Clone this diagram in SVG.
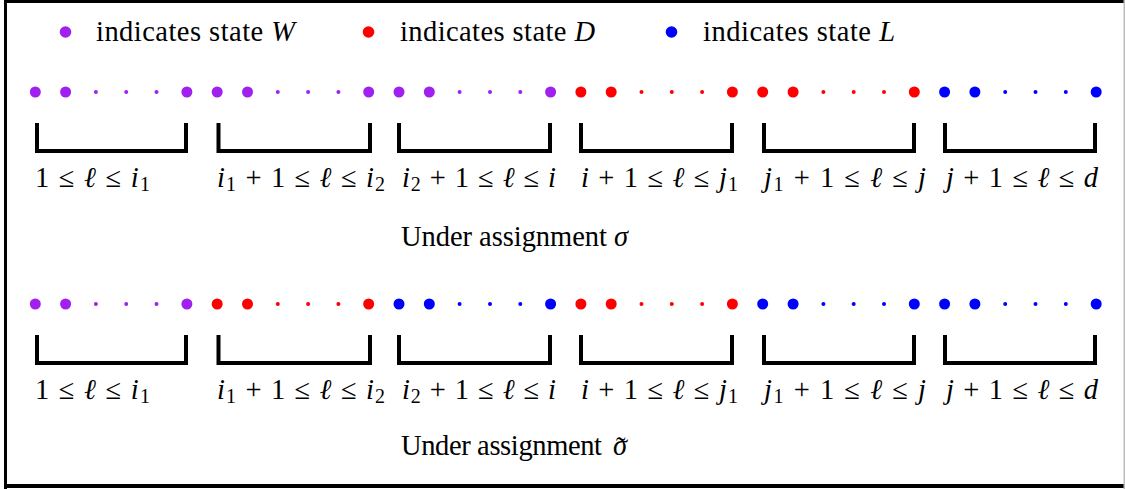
<svg xmlns="http://www.w3.org/2000/svg" width="1125" height="489" viewBox="0 0 1125 489">
<style>
text{font-family:"Liberation Serif","DejaVu Serif",serif;font-size:28.5px;fill:#000}
.it{font-style:italic}
.sub{font-size:20px}
.P{fill:#a020f0}.R{fill:#ff0000}.B{fill:#0000ff}
.br{fill:none;stroke:#000;stroke-width:4;stroke-linejoin:miter}
</style>
<rect x="0" y="0" width="1125" height="489" fill="#fff"/>
<g id="frame">
<rect x="4" y="0" width="1121" height="3" fill="#000"/>
<rect x="4" y="0" width="3" height="489" fill="#000"/>
<rect x="4" y="484" width="1121" height="4" fill="#000"/>
<rect x="1123.5" y="0" width="1.5" height="489" fill="#bbb"/>
</g>
<g id="legend-W"><circle class="P" cx="65.5" cy="32" r="5.8"/><text x="96" y="41" textLength="199" lengthAdjust="spacing">indicates state <tspan class="it">W</tspan></text></g>
<g id="legend-D"><circle class="R" cx="368.5" cy="32" r="5.8"/><text x="400" y="41" textLength="195" lengthAdjust="spacing">indicates state <tspan class="it">D</tspan></text></g>
<g id="legend-L"><circle class="B" cx="671.5" cy="32" r="5.8"/><text x="703" y="41" textLength="192" lengthAdjust="spacing">indicates state <tspan class="it">L</tspan></text></g>
<g id="connectors"/>
<!-- Row 1 -->
<g id="r1g1" class="P"><circle cx="35.3" cy="92" r="5.5"/><circle cx="65.6" cy="92" r="5.5"/><circle cx="95.9" cy="92" r="2"/><circle cx="126.2" cy="92" r="2"/><circle cx="156.5" cy="92" r="2"/><circle cx="186.9" cy="92" r="5.5"/><path class="br" d="M37 123V151H186V123"/><text x="35" y="187" textLength="115" lengthAdjust="spacing">1 ≤ <tspan class="it">ℓ</tspan> ≤ <tspan class="it">i</tspan><tspan class="sub" dy="4">1</tspan></text></g>
<g id="r1g2" class="P"><circle cx="217.2" cy="92" r="5.5"/><circle cx="247.5" cy="92" r="5.5"/><circle cx="277.8" cy="92" r="2"/><circle cx="308.1" cy="92" r="2"/><circle cx="338.4" cy="92" r="2"/><circle cx="368.7" cy="92" r="5.5"/><path class="br" d="M218.5 123V151H370V123"/><text x="217" y="187" textLength="168" lengthAdjust="spacing"><tspan class="it">i</tspan><tspan class="sub" dy="4">1</tspan><tspan dy="-4"> + 1 ≤ </tspan><tspan class="it">ℓ</tspan> ≤ <tspan class="it">i</tspan><tspan class="sub" dy="4">2</tspan></text></g>
<g id="r1g3" class="P"><circle cx="399" cy="92" r="5.5"/><circle cx="429.3" cy="92" r="5.5"/><circle cx="459.6" cy="92" r="2"/><circle cx="490" cy="92" r="2"/><circle cx="520.3" cy="92" r="2"/><circle cx="550.6" cy="92" r="5.5"/><path class="br" d="M399 123V151H550V123"/><text x="402" y="187" textLength="154" lengthAdjust="spacing"><tspan class="it">i</tspan><tspan class="sub" dy="4">2</tspan><tspan dy="-4"> + 1 ≤ </tspan><tspan class="it">ℓ</tspan> ≤ <tspan class="it">i</tspan></text></g>
<g id="r1g4" class="R"><circle cx="580.9" cy="92" r="5.5"/><circle cx="611.2" cy="92" r="5.5"/><circle cx="641.5" cy="92" r="2"/><circle cx="671.8" cy="92" r="2"/><circle cx="702.1" cy="92" r="2"/><circle cx="732.4" cy="92" r="5.5"/><path class="br" d="M581 123V151H732V123"/><text x="581" y="187" textLength="157" lengthAdjust="spacing"><tspan class="it">i</tspan> + 1 ≤ <tspan class="it">ℓ</tspan> ≤ <tspan class="it">j</tspan><tspan class="sub" dy="4">1</tspan></text></g>
<g id="r1g5" class="R"><circle cx="762.7" cy="92" r="5.5"/><circle cx="793.1" cy="92" r="5.5"/><circle cx="823.4" cy="92" r="2"/><circle cx="853.7" cy="92" r="2"/><circle cx="884" cy="92" r="2"/><circle cx="914.3" cy="92" r="5.5"/><path class="br" d="M764 123V151H914V123"/><text x="764" y="187" textLength="162" lengthAdjust="spacing"><tspan class="it">j</tspan><tspan class="sub" dy="4">1</tspan><tspan dy="-4"> + 1 ≤ </tspan><tspan class="it">ℓ</tspan> ≤ <tspan class="it">j</tspan></text></g>
<g id="r1g6" class="B"><circle cx="944.6" cy="92" r="5.5"/><circle cx="974.9" cy="92" r="5.5"/><circle cx="1005.2" cy="92" r="2"/><circle cx="1035.5" cy="92" r="2"/><circle cx="1065.8" cy="92" r="2"/><circle cx="1096.2" cy="92" r="5.5"/><path class="br" d="M945 123V151H1095V123"/><text x="946" y="187" textLength="152" lengthAdjust="spacing"><tspan class="it">j</tspan> + 1 ≤ <tspan class="it">ℓ</tspan> ≤ <tspan class="it">d</tspan></text></g>
<g id="caption1"><text x="401" y="246" textLength="227" lengthAdjust="spacing">Under assignment <tspan class="it">σ</tspan></text></g>
<!-- Row 2 -->
<g id="r2g1" class="P"><circle cx="35.3" cy="304" r="5.5"/><circle cx="65.6" cy="304" r="5.5"/><circle cx="95.9" cy="304" r="2"/><circle cx="126.2" cy="304" r="2"/><circle cx="156.5" cy="304" r="2"/><circle cx="186.9" cy="304" r="5.5"/><path class="br" d="M37 335V363H186V335"/><text x="35" y="399" textLength="115" lengthAdjust="spacing">1 ≤ <tspan class="it">ℓ</tspan> ≤ <tspan class="it">i</tspan><tspan class="sub" dy="4">1</tspan></text></g>
<g id="r2g2" class="R"><circle cx="217.2" cy="304" r="5.5"/><circle cx="247.5" cy="304" r="5.5"/><circle cx="277.8" cy="304" r="2"/><circle cx="308.1" cy="304" r="2"/><circle cx="338.4" cy="304" r="2"/><circle cx="368.7" cy="304" r="5.5"/><path class="br" d="M218.5 335V363H370V335"/><text x="217" y="399" textLength="168" lengthAdjust="spacing"><tspan class="it">i</tspan><tspan class="sub" dy="4">1</tspan><tspan dy="-4"> + 1 ≤ </tspan><tspan class="it">ℓ</tspan> ≤ <tspan class="it">i</tspan><tspan class="sub" dy="4">2</tspan></text></g>
<g id="r2g3" class="B"><circle cx="399" cy="304" r="5.5"/><circle cx="429.3" cy="304" r="5.5"/><circle cx="459.6" cy="304" r="2"/><circle cx="490" cy="304" r="2"/><circle cx="520.3" cy="304" r="2"/><circle cx="550.6" cy="304" r="5.5"/><path class="br" d="M399 335V363H550V335"/><text x="402" y="399" textLength="154" lengthAdjust="spacing"><tspan class="it">i</tspan><tspan class="sub" dy="4">2</tspan><tspan dy="-4"> + 1 ≤ </tspan><tspan class="it">ℓ</tspan> ≤ <tspan class="it">i</tspan></text></g>
<g id="r2g4" class="R"><circle cx="580.9" cy="304" r="5.5"/><circle cx="611.2" cy="304" r="5.5"/><circle cx="641.5" cy="304" r="2"/><circle cx="671.8" cy="304" r="2"/><circle cx="702.1" cy="304" r="2"/><circle cx="732.4" cy="304" r="5.5"/><path class="br" d="M581 335V363H732V335"/><text x="581" y="399" textLength="157" lengthAdjust="spacing"><tspan class="it">i</tspan> + 1 ≤ <tspan class="it">ℓ</tspan> ≤ <tspan class="it">j</tspan><tspan class="sub" dy="4">1</tspan></text></g>
<g id="r2g5" class="B"><circle cx="762.7" cy="304" r="5.5"/><circle cx="793.1" cy="304" r="5.5"/><circle cx="823.4" cy="304" r="2"/><circle cx="853.7" cy="304" r="2"/><circle cx="884" cy="304" r="2"/><circle cx="914.3" cy="304" r="5.5"/><path class="br" d="M764 335V363H914V335"/><text x="764" y="399" textLength="162" lengthAdjust="spacing"><tspan class="it">j</tspan><tspan class="sub" dy="4">1</tspan><tspan dy="-4"> + 1 ≤ </tspan><tspan class="it">ℓ</tspan> ≤ <tspan class="it">j</tspan></text></g>
<g id="r2g6" class="B"><circle cx="944.6" cy="304" r="5.5"/><circle cx="974.9" cy="304" r="5.5"/><circle cx="1005.2" cy="304" r="2"/><circle cx="1035.5" cy="304" r="2"/><circle cx="1065.8" cy="304" r="2"/><circle cx="1096.2" cy="304" r="5.5"/><path class="br" d="M945 335V363H1095V335"/><text x="946" y="399" textLength="152" lengthAdjust="spacing"><tspan class="it">j</tspan> + 1 ≤ <tspan class="it">ℓ</tspan> ≤ <tspan class="it">d</tspan></text></g>
<g id="caption2"><text x="401" y="455" textLength="201" lengthAdjust="spacing">Under assignment</text><text class="it" x="613" y="455">σ</text><text x="616" y="457" font-size="30">˜</text></g>
</svg>
